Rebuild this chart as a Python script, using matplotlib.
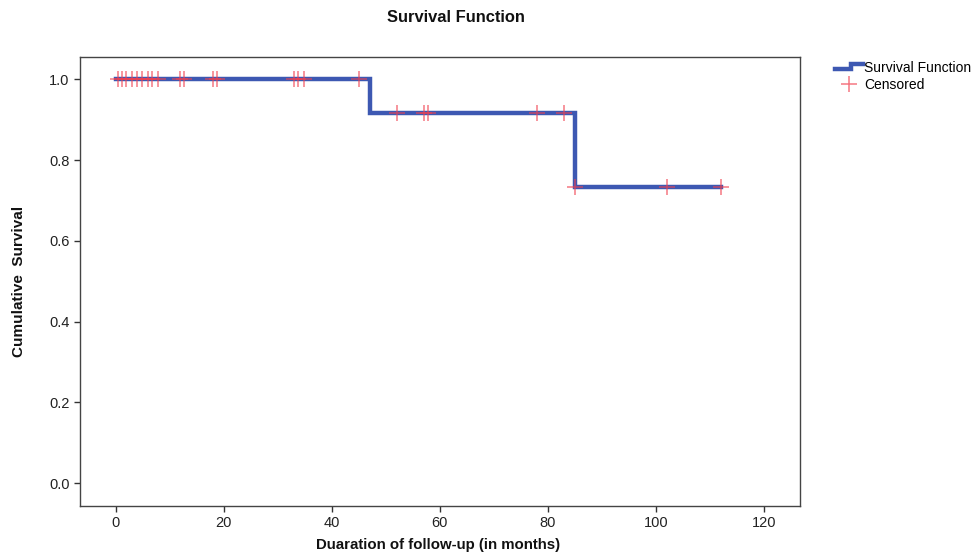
import matplotlib
matplotlib.use("Agg")
import matplotlib.pyplot as plt
from matplotlib.lines import Line2D
from matplotlib.legend_handler import HandlerBase

plt.rcParams['font.family'] = ['Liberation Sans', 'DejaVu Sans']

# Data
step_times = [0, 47, 85, 112]
step_surv = [1.0, 0.917, 0.733, 0.733]
cens_times_1 = [0.5, 1.2, 2.0, 3.0, 3.9, 4.9, 5.9, 6.8, 7.9, 11.9, 12.6, 18.1, 18.8,
                33.1, 33.8, 34.9, 45.0]
cens_times_2 = [52.0, 57.0, 57.9, 78.0, 83.0]
cens_times_3 = [85.0, 102.0, 112.0]
cens_levels = [1.0, 0.917, 0.733]
x_ticks = [0, 20, 40, 60, 80, 100, 120]
y_ticks = [0.0, 0.2, 0.4, 0.6, 0.8, 1.0]

blue = '#3D58B2'
red = '#F2404F'

fig = plt.figure(figsize=(9.71, 5.54), dpi=100)
ax = fig.add_axes([0.0824, 0.0872, 0.8239 - 0.0824, 0.8966 - 0.0872])

ax.step(step_times, step_surv, where='post', color=blue, lw=3.2, solid_joinstyle='miter', zorder=2)
for times, lev in zip([cens_times_1, cens_times_2, cens_times_3], cens_levels):
    ax.plot(times, [lev] * len(times), ls='none', marker='+', ms=11, mew=1.1,
            color=red, alpha=0.7, zorder=3)

ax.set_xlim(-6.6, 126.7)
ax.set_ylim(-0.056, 1.055)
ax.set_xticks(x_ticks)
ax.set_yticks(y_ticks)
ax.set_yticklabels([f'{v:.1f}' for v in y_ticks])
ax.tick_params(axis='both', labelsize=10.5, length=4, width=1, color='#333333', labelcolor='#222222')
for s in ax.spines.values():
    s.set_color('#444444')
    s.set_linewidth(1)

fig.text(456 / 971, 1 - 18 / 554, 'Survival Function', ha='center', va='center',
         fontsize=11.9, fontweight='bold', color='#111111')
fig.text(438 / 971, 1 - 545.5 / 554, 'Duaration of follow-up (in months)', ha='center', va='center',
         fontsize=10.8, fontweight='bold', color='#111111')
fig.text(19 / 971, 1 - 281 / 554, 'Cumulative  Survival', ha='center', va='center',
         rotation=90, fontsize=11, fontweight='bold', color='#111111')


class StepHandler(HandlerBase):
    def create_artists(self, legend, orig_handle, xdescent, ydescent, width, height, fontsize, trans):
        xs = [0, width * 0.6, width * 0.6, width]
        ys = [height * 0.25, height * 0.25, height * 0.85, height * 0.85]
        ln = Line2D(xs, ys, color=blue, lw=3.2, solid_joinstyle='miter', transform=trans)
        return [ln]


surv_handle = Line2D([], [], color=blue, lw=3.2)
cens_handle = Line2D([], [], ls='none', marker='+', ms=11, mew=1.1, color=red, alpha=0.7)
leg = fig.legend([surv_handle, cens_handle], ['Survival Function', 'Censored'],
                 handler_map={surv_handle: StepHandler()},
                 loc='upper left', bbox_to_anchor=(832 / 971, 1 - 58 / 554),
                 frameon=False, fontsize=10, handlelength=2.0, handletextpad=0.1,
                 labelspacing=0.25, borderpad=0.2, borderaxespad=0)

fig.savefig('out.png', dpi=100)
